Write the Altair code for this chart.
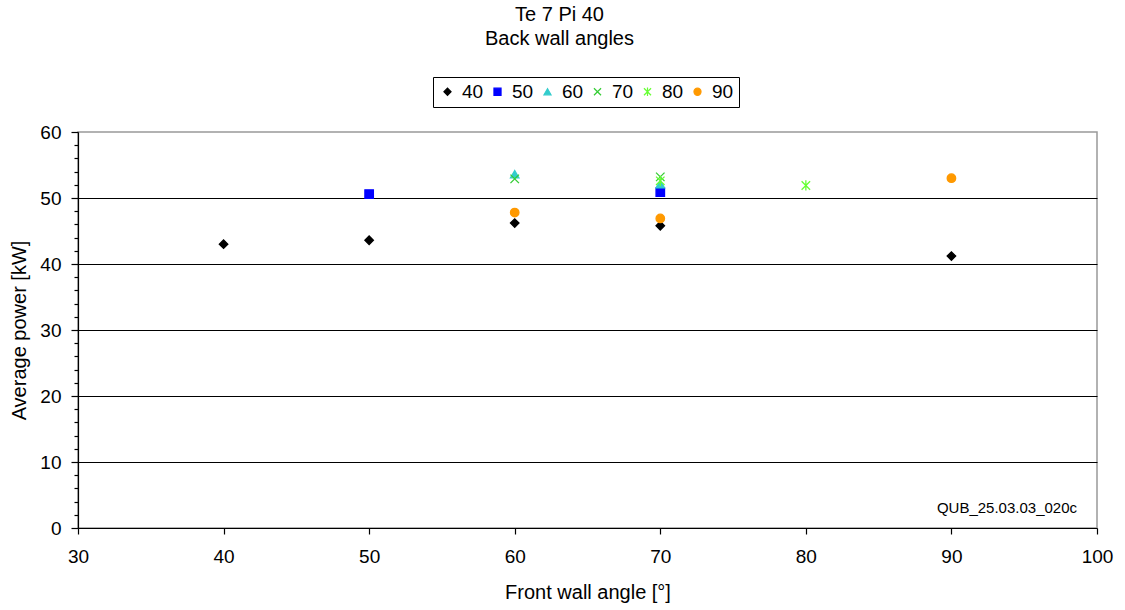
import altair as alt
import pandas as pd

# Data (back wall angle series -> front wall angle, average power)
series_names = ["40", "50", "60", "70", "80", "90"]
front_40 = [40, 50, 60, 70, 90]
power_40 = [43.0, 43.6, 46.2, 45.8, 41.2]
front_50 = [50, 70]
power_50 = [50.6, 50.9]
front_60 = [60, 70]
power_60 = [53.6, 52.1]
front_70 = [60, 70]
power_70 = [52.9, 53.2]
front_80 = [70, 80]
power_80 = [52.6, 51.9]
front_90 = [60, 70, 90]
power_90 = [47.8, 46.9, 53.0]

x_ticks = [30, 40, 50, 60, 70, 80, 90, 100]
y_ticks = list(range(0, 61, 2))
annotation = "QUB_25.03.03_020c"

rows = []
for name, fx, py in [("40", front_40, power_40), ("50", front_50, power_50),
                     ("60", front_60, power_60), ("70", front_70, power_70),
                     ("80", front_80, power_80), ("90", front_90, power_90)]:
    for a, b in zip(fx, py):
        rows.append({"series": name, "front": a, "power": b})
df = pd.DataFrame(rows)

colors = ["#000000", "#0000FF", "#33CCCC", "#33CC33", "#66FF33", "#FF9900"]
shapes = ["diamond", "square", "triangle-up",
          "M-1,-1L1,1M-1,1L1,-1",
          "M-1,-1L1,1M-1,1L1,-1M0,-1.2L0,1.2",
          "circle"]

FONT = "Liberation Sans"

legend = alt.Legend(
    title=None, orient="none", direction="horizontal",
    legendX=355, legendY=-55,
    strokeColor="#000000", fillColor="#FFFFFF", padding=5,
    labelFontSize=19, labelFont=FONT, labelColor="#000000",
    symbolSize=50, symbolStrokeWidth=1.2, columnPadding=4, labelOffset=5,
)

points = alt.Chart(df).mark_point(filled=True, size=72, strokeWidth=1.3, opacity=1).encode(
    x=alt.X("front:Q", scale=alt.Scale(domain=[30, 100], nice=False, zero=False),
            axis=alt.Axis(values=x_ticks, title="Front wall angle [°]", grid=False,
                          tickSize=6, tickColor="#000000", domainColor="#000000",
                          labelFlush=False, labelPadding=13, titlePadding=16)),
    y=alt.Y("power:Q", scale=alt.Scale(domain=[0, 60], nice=False),
            axis=alt.Axis(values=y_ticks, title="Average power [kW]",
                          grid=True, gridColor="#000000", gridWidth=1,
                          gridOpacity={"condition": {"test": "datum.value % 10 === 0 && datum.value > 0 && datum.value < 60", "value": 1}, "value": 0},
                          tickSize={"condition": {"test": "datum.value % 10 === 0", "value": 7}, "value": 4},
                          tickColor="#000000", domainColor="#000000",
                          labelFlush=False,
                          labelExpr="datum.value % 10 === 0 ? datum.label : ''",
                          labelPadding=10, titlePadding=10)),
    fill=alt.Fill("series:N", scale=alt.Scale(domain=series_names, range=colors), legend=legend),
    stroke=alt.Stroke("series:N", scale=alt.Scale(domain=series_names, range=colors), legend=legend),
    shape=alt.Shape("series:N", scale=alt.Scale(domain=series_names, range=shapes), legend=legend),
    order=alt.Order("series:N"),
)

ann = alt.Chart(pd.DataFrame({"t": [annotation]})).mark_text(
    align="right", baseline="middle", fontSize=15, font=FONT, color="#000000"
).encode(text="t:N", x=alt.value(999), y=alt.value(376))

chart = alt.layer(points, ann).properties(
    width=1019, height=396,
    padding={"left": 78, "top": 132, "right": 28, "bottom": 82},
    autosize=alt.AutoSizeParams(type="none"),
    title=alt.Title(["Te 7 Pi 40", "Back wall angles"], fontSize=20, fontWeight="normal",
                    font=FONT, color="#000000", anchor="middle", dx=-28, offset=28,
                    lineHeight=24),
).configure_view(stroke="#999999", strokeWidth=1.5).configure_axis(
    labelFont=FONT, titleFont=FONT, labelFontSize=19, titleFontSize=20,
    labelColor="#000000", titleColor="#000000", titleFontWeight="normal",
    domainWidth=1.2, tickWidth=1.2,
)

chart.save("out.html", embed_options={"renderer": "svg", "actions": False})
